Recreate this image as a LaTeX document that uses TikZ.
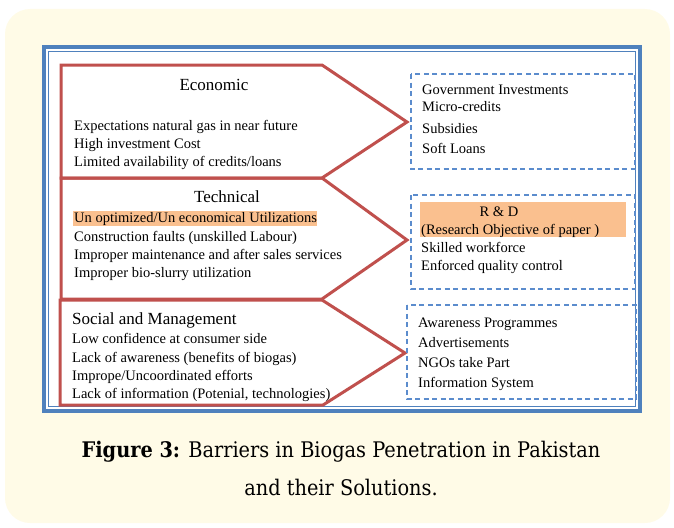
\documentclass[tikz,border=0pt]{standalone}
\usepackage{fontspec}
\setmainfont{Liberation Serif}
\newfontfamily\capfont{DejaVu Serif Condensed}
\usepackage{tikz}
\definecolor{cream}{RGB}{255,251,231}
\definecolor{frameblue}{RGB}{79,129,189}
\definecolor{dashblue}{RGB}{91,140,205}
\definecolor{barred}{RGB}{192,80,77}
\definecolor{hilite}{RGB}{250,192,143}

\begin{document}
\begin{tikzpicture}[x=1pt,y=-1pt]
  \tikzstyle{HeadStyle}=[anchor=mid,inner sep=0pt,font=\fontsize{17}{20}\selectfont]
  \tikzstyle{ItemStyle}=[anchor=mid west,inner sep=0pt,font=\fontsize{14.5}{18}\selectfont]
  \tikzstyle{BarrierStyle}=[draw=barred,line width=3pt,line join=miter]
  \tikzstyle{SolutionStyle}=[draw=dashblue,line width=1.3pt,dash pattern=on 5pt off 3.5pt]
  \tikzstyle{CaptionStyle}=[anchor=mid,inner sep=0pt,font=\capfont\fontsize{21.5}{26}\selectfont]
  \useasboundingbox (0,0) rectangle (674,527);
  \fill[cream,rounded corners=25pt] (5,9) rectangle (670,523);
  \fill[white] (44,47) rectangle (640,411);
  \draw[frameblue,line width=4pt] (44,47) rectangle (640,411);
  \draw[frameblue,line width=1pt] (48.5,52) rectangle (635,406);
  % barriers
  \draw[BarrierStyle] (61,65) -- (322,65) -- (407,122) -- (322,178) -- (61,178) -- cycle;
  \draw[BarrierStyle] (61,178) -- (322,178) -- (407,240) -- (322,299) -- (61,299) -- cycle;
  \draw[BarrierStyle] (60,300) -- (322,300) -- (405,353) -- (323,405) -- (60,405) -- cycle;
  \fill[hilite] (73,211) rectangle (317,226);
  \node[HeadStyle] (econ) at (214,88) {Economic};
  \node[ItemStyle] (econA) at (74,128) {Expectations natural gas in near future};
  \node[ItemStyle] (econB) at (74,146) {High investment Cost};
  \node[ItemStyle] (econC) at (74,164) {Limited availability of credits/loans};
  \node[HeadStyle] (tech) at (227,200) {Technical};
  \node[ItemStyle] (techA) at (74,220) {Un optimized/Un economical Utilizations};
  \node[ItemStyle] (techB) at (74,239) {Construction faults (unskilled Labour)};
  \node[ItemStyle] (techC) at (74,257) {Improper maintenance and after sales services};
  \node[ItemStyle] (techD) at (74,275) {Improper bio-slurry utilization};
  \node[HeadStyle,anchor=mid west] (soc) at (72,322) {Social and Management};
  \node[ItemStyle] (socA) at (72,341) {Low confidence at consumer side};
  \node[ItemStyle] (socB) at (72,360) {Lack of awareness (benefits of biogas)};
  \node[ItemStyle] (socC) at (72,378) {Imprope/Uncoordinated efforts};
  \node[ItemStyle] (socD) at (72,396) {Lack of information (Potenial, technologies)};
  % solutions
  \draw[SolutionStyle] (411,74) rectangle (635,169);
  \draw[SolutionStyle] (411,195) rectangle (635,289);
  \draw[SolutionStyle] (407,305) rectangle (636,399);
  \fill[hilite] (420,202) rectangle (626,237);
  \node[ItemStyle] (gov) at (422,92) {Government Investments};
  \node[ItemStyle] (micro) at (422,109) {Micro-credits};
  \node[ItemStyle] (subs) at (422,131) {Subsidies};
  \node[ItemStyle] (soft) at (422,151) {Soft Loans};
  \node[ItemStyle,anchor=mid] (rnd) at (499,214) {R \& D};
  \node[ItemStyle] (obj) at (421,232) {(Research Objective of paper )};
  \node[ItemStyle] (skill) at (421,250) {Skilled workforce};
  \node[ItemStyle] (qual) at (421,268) {Enforced quality control};
  \node[ItemStyle] (aware) at (418,325) {Awareness Programmes};
  \node[ItemStyle] (advert) at (418,345) {Advertisements};
  \node[ItemStyle] (ngo) at (418,365) {NGOs take Part};
  \node[ItemStyle] (info) at (418,385) {Information System};
  \node[CaptionStyle] (capA) at (341,455) {\textbf{Figure 3:} Barriers in Biogas Penetration in Pakistan};
  \node[CaptionStyle] (capB) at (341,493) {and their Solutions.};
\end{tikzpicture}
\end{document}
